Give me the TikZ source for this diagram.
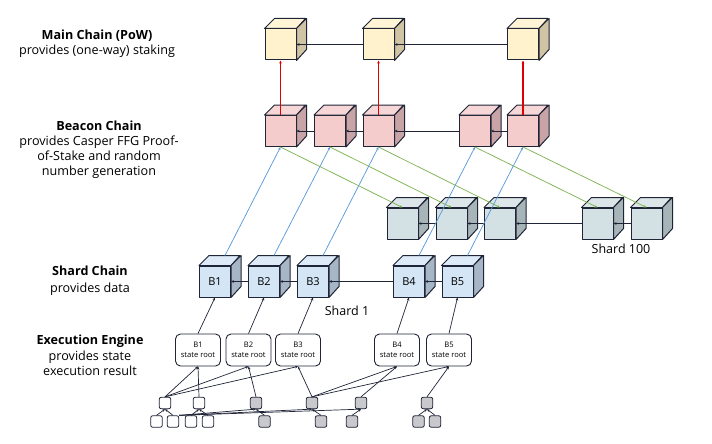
\documentclass[tikz,border=0pt]{standalone}
\usepackage{fontspec}
\setmainfont{Open Sans}
\usetikzlibrary{arrows.meta,calc}
\definecolor{edgec}{HTML}{1F2436}
\definecolor{mainF}{HTML}{FFF2CC}
\definecolor{mainS}{HTML}{D0C4A4}
\definecolor{beacF}{HTML}{F4CCCC}
\definecolor{beacS}{HTML}{C8A4A6}
\definecolor{hundF}{HTML}{D3E0E4}
\definecolor{hundS}{HTML}{A8B5B8}
\definecolor{oneF}{HTML}{D4E5F5}
\definecolor{oneS}{HTML}{A7B6C6}
\definecolor{redl}{HTML}{E00000}
\definecolor{bluel}{HTML}{5B9BD8}
\definecolor{greenl}{HTML}{7DB552}
\definecolor{grayn}{HTML}{C8C8CD}
\newcommand{\drawcube}[5]{%
  \node[cubefront, fill=#4] (#1) at (#2,#3) {#5};
  \draw[cubeedge, fill=#4!80!white] (#1.north west) -- ++(10,-10) -- ++(31,0) -- (#1.north east) -- cycle;
  \draw[cubeedge, fill=cubeside] (#1.north east) -- ++(10,-10) -- ++(0,31) -- (#1.south east) -- cycle;
  \coordinate (#1-bt) at ($(#1.north)+(10,-10)$);
}
\begin{document}
\begin{tikzpicture}[x=1pt,y=-1pt,
  cubeedge/.style={draw=edgec, line width=1pt, line join=round},
  cubefront/.style={cubeedge, minimum size=31pt, inner sep=0pt, font=\fontsize{11}{13}\selectfont},
  arr/.style={-{Stealth[length=3pt,width=2.6pt]}},
  chainl/.style={draw=edgec, line width=0.8pt, arr},
  redline/.style={draw=redl, line width=1.1pt, arr},
  blueline/.style={draw=bluel, line width=0.75pt, arr},
  greenline/.style={draw=greenl, line width=0.75pt, arr},
  exbox/.style={draw=edgec, line width=0.9pt, rounded corners=5pt, fill=white, minimum width=45pt, minimum height=32pt, inner sep=0pt, align=center, font=\fontsize{7.6}{10}\selectfont},
  tnode/.style={draw=edgec, line width=0.8pt, rounded corners=2pt, minimum size=11.5pt, inner sep=0pt},
  wnode/.style={tnode, fill=white},
  gnode/.style={tnode, fill=grayn},
  tline/.style={draw=edgec, line width=0.7pt, arr},
  title/.style={align=center, font=\fontsize{12.6}{15}\selectfont, inner sep=0pt},
  shardlbl/.style={font=\fontsize{12.5}{15}\selectfont, inner sep=0pt}
]
\useasboundingbox (0,0) rectangle (712,444);

% ---- left titles
\node[title] (tmain) at (97,44) {\textbf{Main Chain (PoW)}\\provides (one-way) staking};
\node[title] (tbeac) at (99,150) {\textbf{Beacon Chain}\\provides Casper FFG Proof-\\of-Stake and random\\number generation};
\node[title, font=\fontsize{12.6}{16.5}\selectfont] (tshard) at (90,280.5) {\textbf{Shard Chain}\\provides data};
\node[title, font=\fontsize{12.6}{15.5}\selectfont] (texec) at (90,355.5) {\textbf{Execution Engine}\\provides state\\execution result};

% ---- main chain cubes
\colorlet{cubeside}{mainS}
\drawcube{M1}{280.5}{44.5}{mainF}{}
\drawcube{M2}{378.5}{44.5}{mainF}{}
\drawcube{M3}{523}{44.5}{mainF}{}

% ---- beacon chain cubes
\colorlet{cubeside}{beacS}
\drawcube{C1}{280.5}{131}{beacF}{}
\drawcube{C2}{330}{131}{beacF}{}
\drawcube{C3}{378.5}{131}{beacF}{}
\drawcube{C4}{475}{131}{beacF}{}
\drawcube{C5}{523}{131}{beacF}{}

% ---- shard 100 cubes
\colorlet{cubeside}{hundS}
\drawcube{H1}{402.5}{223.5}{hundF}{}
\drawcube{H2}{451.5}{223.5}{hundF}{}
\drawcube{H3}{500}{223.5}{hundF}{}
\drawcube{H4}{597.5}{223.5}{hundF}{}
\drawcube{H5}{646.5}{223.5}{hundF}{}

% ---- shard 1 cubes
\colorlet{cubeside}{oneS}
\drawcube{B1}{215}{281.5}{oneF}{B1}
\drawcube{B2}{264}{281.5}{oneF}{B2}
\drawcube{B3}{313}{281.5}{oneF}{B3}
\drawcube{B4}{409}{281.5}{oneF}{B4}
\drawcube{B5}{457.5}{281.5}{oneF}{B5}

\node[shardlbl] (l100) at (621,249) {Shard 100};
\node[shardlbl] (l1) at (347,311) {Shard 1};

% ---- chain links
\draw[chainl] (M2.west) -- (M1.east);
\draw[chainl] (M3.west) -- (M2.east);
\draw[chainl] (C2.west) -- (C1.east);
\draw[chainl] (C3.west) -- (C2.east);
\draw[chainl] (C4.west) -- (C3.east);
\draw[chainl] (C5.west) -- (C4.east);
\draw[chainl] (H2.west) -- (H1.east);
\draw[chainl] (H3.west) -- (H2.east);
\draw[chainl] (H4.west) -- (H3.east);
\draw[chainl] (H5.west) -- (H4.east);
\draw[chainl] (B2.west) -- (B1.east);
\draw[chainl] (B3.west) -- (B2.east);
\draw[chainl] (B4.west) -- (B3.east);
\draw[chainl] (B5.west) -- (B4.east);

% ---- beacon to main (red)
\draw[redline] (C1.north) -- (C1.north |- M1.south);
\draw[redline] (C3.north) -- (C3.north |- M2.south);
\draw[redline] (C5.north) -- (C5.north |- M3.south);

% ---- green beacon -> shard 100
\draw[greenline] (C1.south) -- (H1.north);
\draw[greenline] (C2.south) -- (H2.north);
\draw[greenline] (C3.south) -- (H3.north);
\draw[greenline] (C4.south) -- (H4.north);
\draw[greenline] (C5.south) -- (H5.north);

% ---- blue shard 1 -> beacon
\draw[blueline] (B1-bt) -- (C1.south);
\draw[blueline] (B2-bt) -- (C2.south);
\draw[blueline] (B3-bt) -- (C3.south);
\draw[blueline] (B4-bt) -- (C4.south);
\draw[blueline] (B5-bt) -- (C5.south);

% ---- execution engine boxes
\node[exbox] (E1) at (198,350) {B1\\state root};
\node[exbox] (E2) at (248.5,350) {B2\\state root};
\node[exbox] (E3) at (298,350) {B3\\state root};
\node[exbox] (E4) at (397,350) {B4\\state root};
\node[exbox] (E5) at (449,350) {B5\\state root};

\draw[tline] (E1.north) -- (B1.south);
\draw[tline] (E2.north) -- (B2.south);
\draw[tline] (E3.north) -- (B3.south);
\draw[tline] (E4.north) -- (B4.south);
\draw[tline] (E5.north) -- (B5.south);

% ---- state tree nodes
\node[wnode] (w1) at (165,403) {};
\node[wnode] (w2) at (199,403) {};
\node[gnode] (g1) at (256,403) {};
\node[gnode] (g2) at (312,403) {};
\node[gnode] (g3) at (361,403) {};
\node[gnode] (g4) at (427,403) {};
\node[wnode] (wa) at (156.5,421.5) {};
\node[wnode] (wb) at (173,421.5) {};
\node[wnode] (wc) at (191,421.5) {};
\node[wnode] (wd) at (208,421.5) {};
\node[gnode] (ga) at (264.5,421.5) {};
\node[gnode] (gb) at (321,421.5) {};
\node[gnode] (gc) at (352,421.5) {};
\node[gnode] (gd) at (418.5,421.5) {};
\node[gnode] (ge) at (435,421.5) {};

\draw[tline] (wa.north) -- (w1.south);
\draw[tline] (wb.north) -- (w1.south);
\draw[tline] (wc.north) -- (w2.south);
\draw[tline] (wd.north) -- (w2.south);
\draw[tline] (ga.north) -- (g1.south);
\draw[tline] (gb.north) -- (g2.south);
\draw[tline] (gc.north) -- (g3.south);
\draw[tline] (gd.north) -- (g4.south);
\draw[tline] (ge.north) -- (g4.south);
\draw[tline] (wb.north east) -- (g1.south);
\draw[tline] (wb.north east) -- (g2.south);
\draw[tline] (wb.north east) -- (g3.south);

\draw[tline] (w1.north) -- (E1.south);
\draw[tline] (w2.north) -- (E1.south);
\draw[tline] (w1.north) -- (E2.south);
\draw[tline] (g1.north) -- (E2.south);
\draw[tline] (w1.north) -- (E3.south);
\draw[tline] (g2.north) -- (E3.south);
\draw[tline] (g2.north) -- (E4.south);
\draw[tline] (g3.north) -- (E4.south);
\draw[tline] (g2.north) -- (E5.south);
\draw[tline] (g4.north) -- (E5.south);
\end{tikzpicture}
\end{document}
